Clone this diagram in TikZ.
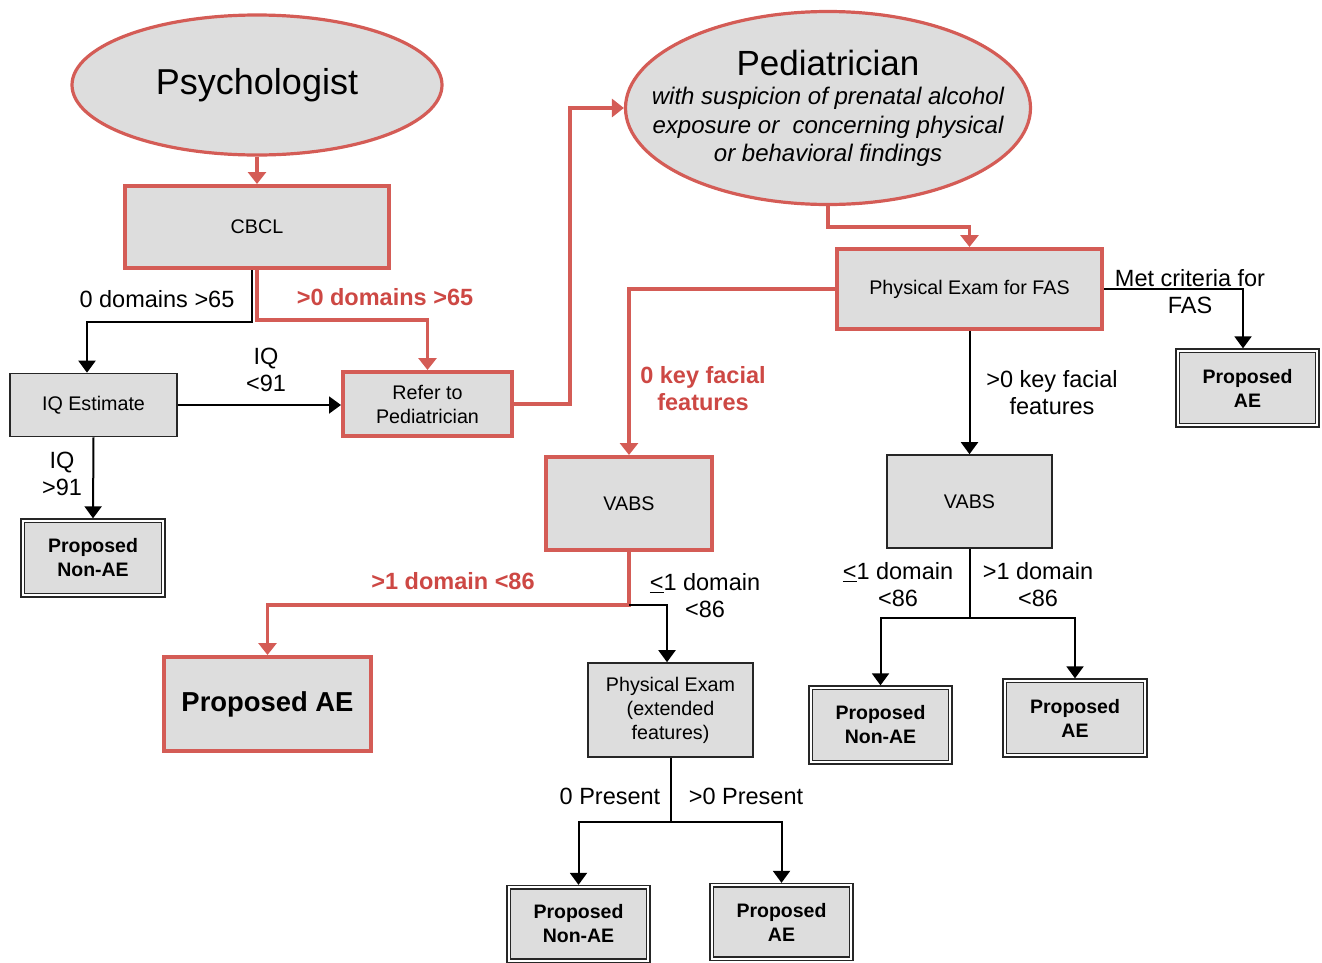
\documentclass[tikz,border=0pt]{standalone}
\usepackage{fontspec}
\setmainfont{Liberation Sans}
\usetikzlibrary{shapes.geometric,arrows.meta}
\definecolor{rd}{RGB}{212,92,86}
\definecolor{rdtxt}{RGB}{205,72,68}
\definecolor{bx}{RGB}{221,221,221}
\tikzset{
  box/.style={rectangle, fill=bx, inner sep=0pt, align=center, font=\fontsize{19.7}{24}\selectfont},
  redbox/.style={box, draw=rd, line width=4pt},
  blkbox/.style={box, draw=black!85, line width=1.6pt},
  final/.style={box, draw=black!85, line width=1.9pt, font=\bfseries\fontsize{19.5}{24}\selectfont,
    append after command={\pgfextra{\draw[black!85, line width=1.2pt]
      ([shift={(-2.6pt,2.6pt)}]\tikzlastnode.north west) rectangle
      ([shift={(2.6pt,-2.6pt)}]\tikzlastnode.south east);}}},
  ell/.style={ellipse, draw=rd, line width=3.2pt, fill=bx, inner sep=0pt},
  redarr/.style={draw=rd, line width=3.5pt, -{Triangle[width=18pt,length=12pt]}},
  blkline/.style={draw=black, line width=2pt},
  blkarr/.style={blkline, -{Triangle[width=17pt,length=12pt]}},
  lbl/.style={font=\fontsize{23.5}{27}\selectfont, align=center, inner sep=0pt},
  rlbl/.style={lbl, font=\bfseries\fontsize{23.5}{27}\selectfont, text=rdtxt},
}
\begin{document}
\begin{tikzpicture}[x=1pt,y=-1pt]
\useasboundingbox (0,0) rectangle (1322,962);
% ellipses
\node[ell, minimum width=370, minimum height=140] (psy) at (257,85) {};
\node[font=\fontsize{36}{40}\selectfont] (psyt) at (257,85) {Psychologist};
\node[ell, minimum width=405, minimum height=193] (ped) at (828,108) {};
\node[font=\fontsize{35}{40}\selectfont] (pedt) at (828,63) {Pediatrician};
\node[align=center, font=\itshape\fontsize{24}{28.5}\selectfont] (pedsub) at (828,127)
  {with suspicion of prenatal alcohol\\exposure or\ \ concerning physical\\or behavioral findings};
% boxes
\node[redbox, minimum width=264, minimum height=82] (cbcl) at (257,227) {CBCL};
\node[blkbox, minimum width=167, minimum height=63] (iq) at (93.5,405) {IQ Estimate};
\node[redbox, minimum width=169, minimum height=64] (refer) at (427.5,404) {Refer to\\Pediatrician};
\node[final, minimum width=137, minimum height=71] (na1) at (93,558) {Proposed\\Non-AE};
\node[redbox, minimum width=265, minimum height=80] (fas) at (969.5,289) {Physical Exam for FAS};
\node[final, minimum width=136, minimum height=71] (ae1) at (1247.5,388) {Proposed\\AE};
\node[redbox, minimum width=166, minimum height=93] (vabsL) at (629,503.5) {VABS};
\node[blkbox, minimum width=165, minimum height=93] (vabsR) at (969.5,501.5) {VABS};
\node[redbox, minimum width=207, minimum height=94, font=\bfseries\fontsize{27.4}{32}\selectfont] (aeBig) at (267.5,704) {Proposed AE};
\node[blkbox, minimum width=165, minimum height=94] (pe2) at (670.5,710) {Physical Exam\\(extended\\features)};
\node[final, minimum width=136, minimum height=71] (na2) at (880.5,725) {Proposed\\Non-AE};
\node[final, minimum width=137, minimum height=71] (ae2) at (1075,718) {Proposed\\AE};
\node[final, minimum width=136, minimum height=70] (na3) at (578.5,924) {Proposed\\Non-AE};
\node[final, minimum width=136, minimum height=70] (ae3) at (781.5,922) {Proposed\\AE};
% connectors
\draw[redarr] (psy.south) -- (cbcl.north);
\draw[blkarr] ([xshift=-5pt]cbcl.south) -- ++(0,52) -| ([xshift=-6.5pt]iq.north);
\draw[redarr] (cbcl.south) -- ++(0,50) -| (refer.north);
\draw[blkarr] (iq.east) -- (iq.east -| refer.west);
\draw[blkarr] (iq.south) -- ([yshift=3.2pt]na1.north);
\draw[redarr] (refer.east) -- ++(56,0) |- (ped.west);
\draw[redarr] (ped.south) -- ++(0,21) -| (fas.north);
\draw[blkarr] (fas.east) -| ([xshift=-4.5pt,yshift=3.2pt]ae1.north);
\draw[blkarr] (fas.south) -- (vabsR.north);
\draw[redarr] (fas.west) -| (vabsL.north);
\draw[redarr] (vabsL.south) -- ++(0,53) coordinate (j1) -| (aeBig.north);
\draw[blkarr] (j1) -| ([xshift=-3.5pt]pe2.north);
\draw[blkline] (pe2.south) -- ++(0,64) coordinate (j2);
\draw[blkarr] (j2) -| ([yshift=3.2pt]na3.north);
\draw[blkarr] (j2) -| ([yshift=3.2pt]ae3.north);
\draw[blkline] (vabsR.south) -- ++(0,69) coordinate (j3);
\draw[blkarr] (j3) -| ([yshift=3.2pt]na2.north);
\draw[blkarr] (j3) -| ([yshift=3.2pt]ae2.north);
% labels
\node[lbl] (l1) at (157,299) {0 domains >65};
\node[rlbl] (l2) at (385,297) {>0 domains >65};
\node[lbl] (l3) at (266,370) {IQ\\<91};
\node[lbl] (l4) at (62,474) {IQ\\>91};
\node[lbl] (l5) at (1190,292) {Met criteria for\\FAS};
\node[lbl] (l6) at (1052,393) {>0 key facial\\features};
\node[rlbl] (l7) at (703,389) {0 key facial\\features};
\node[rlbl] (l8) at (453,581) {>1 domain <86};
\node[lbl] (l9) at (705,596) {\underline{<}1 domain\\<86};
\node[lbl] (l10) at (610,796) {0 Present};
\node[lbl] (l11) at (746,796) {>0 Present};
\node[lbl] (l12) at (898,585) {\underline{<}1 domain\\<86};
\node[lbl] (l13) at (1038,585) {>1 domain\\<86};
\end{tikzpicture}
\end{document}
